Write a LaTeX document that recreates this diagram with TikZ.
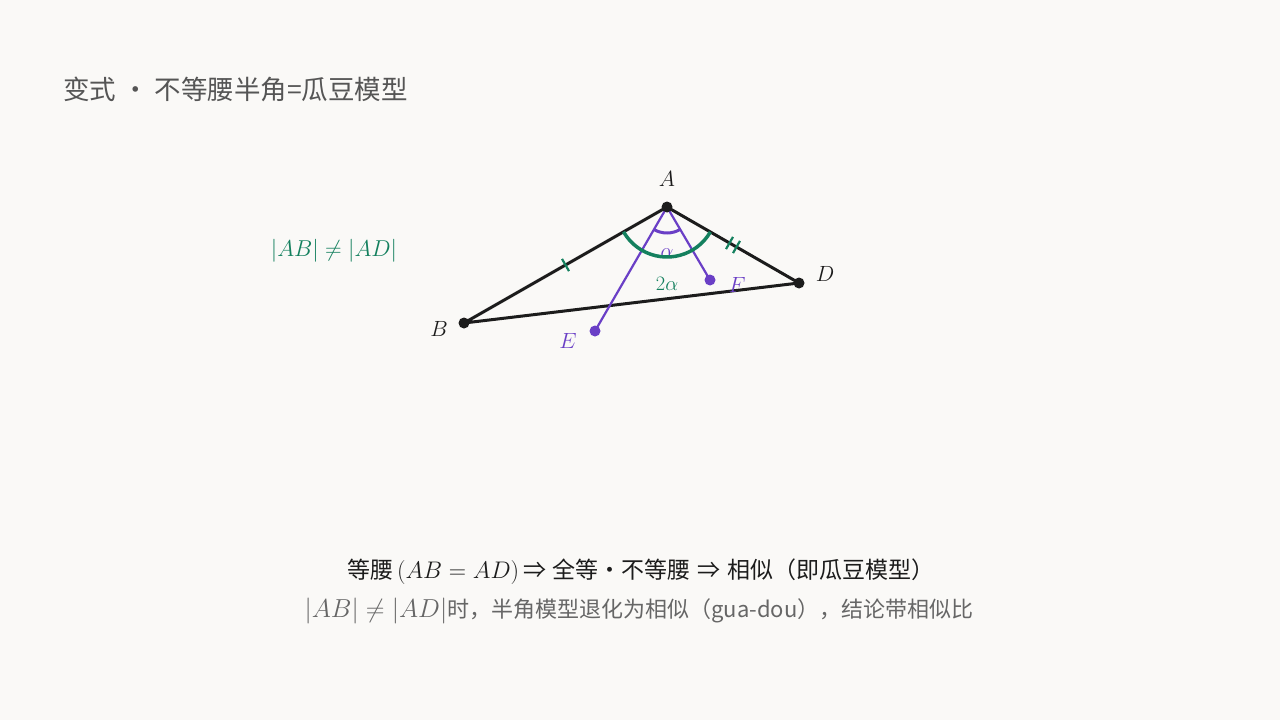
\RequirePackage{fix-cm}
\documentclass[tikz,border=0pt]{standalone}
\usepackage{fontspec}
\newfontfamily\cjk{Noto Sans CJK SC}
\usetikzlibrary{calc}
\definecolor{bg}{HTML}{FAF9F7}
\definecolor{grn}{HTML}{14805E}
\definecolor{pur}{HTML}{6A3FC6}
\definecolor{blk}{HTML}{1C1C1C}
\definecolor{ttl}{HTML}{555555}
\definecolor{sub}{HTML}{666666}
\tikzset{
  side/.style={draw=blk,line width=3pt},
  ray/.style={draw=pur,line width=2.2pt},
  tick/.style={draw=grn,line width=2.2pt},
  bigarc/.style={draw=grn,line width=3.5pt},
  smallarc/.style={draw=pur,line width=3pt},
  lbl/.style={font=\fontsize{22}{26}\selectfont,text=blk,inner sep=0pt},
  plbl/.style={font=\fontsize{22}{26}\selectfont,text=pur,inner sep=0pt},
  glbl/.style={font=\fontsize{20.5}{24}\selectfont,text=grn,inner sep=0pt},
}
\begin{document}
\begin{tikzpicture}[x=1pt,y=-1pt]
\fill[bg] (0,0) rectangle (1280,720);
\useasboundingbox (0,0) rectangle (1280,720);
% title
\node[anchor=west,inner sep=0pt,text=ttl,font=\cjk\fontsize{26.5}{30}\selectfont] (title) at (63,89) {变式 · 不等腰半角=瓜豆模型};
% points
\coordinate (A) at (667,207);
\coordinate (B) at (464,323);
\coordinate (D) at (799,283);
\coordinate (E) at (595,331);
\coordinate (F) at (710,280);
% triangle
\draw[side,line join=round] (A) -- (B) -- (D) -- cycle;
% rays
\draw[ray] (A) -- (E);
\draw[ray] (A) -- (F);
% ticks
\coordinate (M1) at ($(A)!0.5!(B)$);
\draw[tick] ($(M1)+(3.5,6.1)$) -- ($(M1)-(3.5,6.1)$);
\coordinate (M2) at ($(A)!0.5!(D)$);
\draw[tick] ($(M2)+(-3.5,-2)+(-3.5,6.1)$) -- ($(M2)+(-3.5,-2)-(-3.5,6.1)$);
\draw[tick] ($(M2)+(3.5,2)+(-3.5,6.1)$) -- ($(M2)+(3.5,2)-(-3.5,6.1)$);
% alpha label
\node[glbl,text=pur] (al) at (667,253) {$\alpha$};
% arcs
\draw[smallarc] ($(A)+(59.5:26)$) arc[start angle=59.5,end angle=120.1,radius=26];
\draw[bigarc] ($(A)+(29.9:50)$) arc[start angle=29.9,end angle=150.3,radius=50];
\node[glbl] (ta) at (667,284) {$2\alpha$};
% dots
\foreach \p in {A,B,D} \fill[blk] (\p) circle (5.5);
\foreach \p in {E,F} \fill[pur] (\p) circle (5.5);
% labels
\node[lbl] (lA) at (667,179) {$A$};
\node[lbl] (lB) at (439,329) {$B$};
\node[lbl] (lD) at (825,274) {$D$};
\node[plbl] (lE) at (568,341) {$E$};
\node[plbl] (lF) at (737,285) {$F$};
\node[inner sep=0pt,text=grn,font=\fontsize{23}{27}\selectfont] (neq) at (334,251) {$|AB|\neq|AD|$};
% bottom
\node[inner sep=0pt,text=blk,font=\cjk\fontsize{23}{27}\selectfont] (l1) at (641,572) {等腰\,{\fontsize{24}{28}\selectfont$(AB=AD)$}\,⇒\hspace{0.3em}全等·不等腰\hspace{0.3em}⇒\hspace{0.3em}相似（即瓜豆模型）};
\node[inner sep=0pt,text=sub,font=\cjk\fontsize{22}{26}\selectfont] (l2) at (639,611) {{\fontsize{26}{30}\selectfont$|AB|\neq|AD|$}时，半角模型退化为相似（gua-dou），结论带相似比};
\end{tikzpicture}
\end{document}
